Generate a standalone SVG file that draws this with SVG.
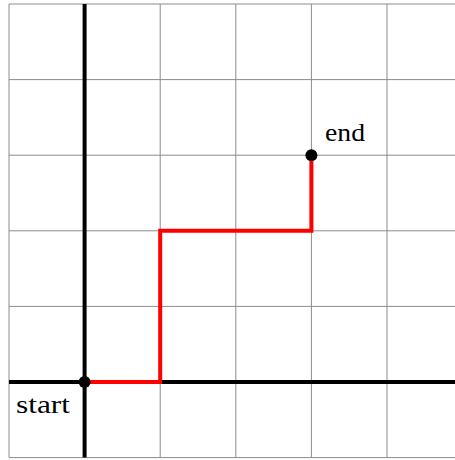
<svg xmlns="http://www.w3.org/2000/svg" width="455" height="460" viewBox="0 0 455 460">
<style>
.grid{stroke:#8c8c8c;stroke-width:1;fill:none}
.axis{stroke:#000;stroke-width:4;fill:none}
.path{stroke:#ff0000;stroke-width:4;fill:none;stroke-linejoin:miter}
.lbl{font-family:"Liberation Serif","Times New Roman",serif;font-size:25px;fill:#000}
</style>
<rect width="455" height="460" fill="#fff"/>
<g id="grid" class="grid">
<path d="M9,4V457.6M84.6,4V457.6M160.2,4V457.6M235.8,4V457.6M311.4,4V457.6M387,4V457.6"/>
<path d="M9,4H455M9,79.6H455M9,155.2H455M9,230.8H455M9,306.4H455M9,382H455M9,457.6H455"/>
</g>
<g id="axes" class="axis">
<line x1="9" y1="382" x2="455" y2="382"/>
<line x1="84.6" y1="4" x2="84.6" y2="457.6"/>
</g>
<g id="connectors">
<path class="path" d="M84.6,382H160.2V230.8H311.4V155.2"/>
</g>
<g id="start">
<circle cx="84.6" cy="382" r="6"/>
<text class="lbl" x="16" y="413" textLength="54" lengthAdjust="spacingAndGlyphs">start</text>
</g>
<g id="end">
<circle cx="311.4" cy="155.2" r="6"/>
<text class="lbl" x="325" y="141" textLength="40" lengthAdjust="spacingAndGlyphs">end</text>
</g>
</svg>
